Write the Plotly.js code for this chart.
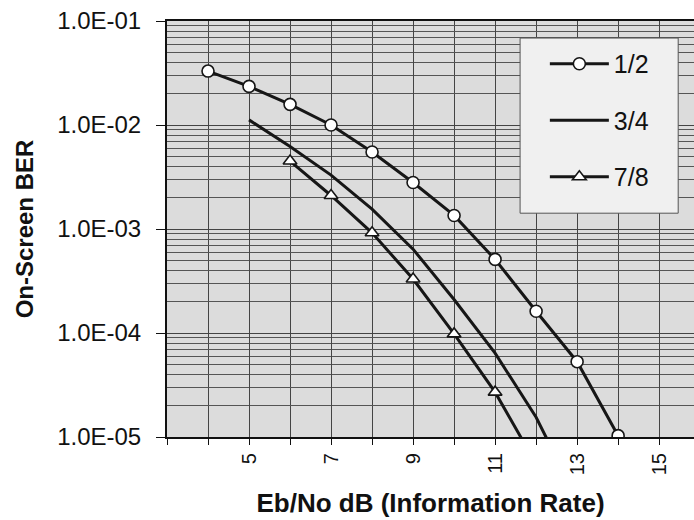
<!DOCTYPE html>
<html>
<head>
<meta charset="utf-8">
<script src="https://cdn.plot.ly/plotly-3.0.1.min.js"></script>
<style>html,body{margin:0;padding:0;background:#fff;}#chart{width:694px;height:520px;}</style>
</head>
<body>
<div id="chart"></div>
<script>
// Series names
var seriesNames = ["1/2", "3/4", "7/8"];

// Eb/No (dB) values per series
var ebno12 = [4, 5, 6, 7, 8, 9, 10, 11, 12, 13, 14];
var ebno34 = [5, 6, 7, 8, 9, 10, 11, 12, 13];
var ebno78 = [6, 7, 8, 9, 10, 11, 12];

// On-screen BER values per series
var ber12 = [3.3e-2, 2.35e-2, 1.58e-2, 1.0e-2, 5.5e-3, 2.8e-3, 1.35e-3, 5.1e-4, 1.62e-4, 5.3e-5, 1.03e-5];
var ber34 = [1.12e-2, 6.2e-3, 3.3e-3, 1.55e-3, 6.4e-4, 2.1e-4, 6.4e-5, 1.55e-5, 2.5e-6];
var ber78 = [4.5e-3, 2.1e-3, 9.2e-4, 3.3e-4, 9.8e-5, 2.7e-5, 5.5e-6];

// Tick labels
var yTickVals = [1e-5, 1e-4, 1e-3, 1e-2, 1e-1];
var yTickText = ["1.0E-05", "1.0E-04", "1.0E-03", "1.0E-02", "1.0E-01"];
var xTickVals = [5, 7, 9, 11, 13, 15];
var xTickText = ["5", "7", "9", "11", "13", "15"];

var FONT = "Arial, 'Liberation Sans', sans-serif";
var lineCol = "#161616";

var traces = [
  {
    x: ebno12, y: ber12, name: seriesNames[0], type: "scatter", mode: "lines+markers",
    legendgroup: "a",
    line: {color: lineCol, width: 3},
    marker: {symbol: "circle", size: 12, color: "#ffffff", line: {color: lineCol, width: 1.6}}
  },
  {
    x: ebno34, y: ber34, name: seriesNames[1], type: "scatter", mode: "lines",
    legendgroup: "b",
    line: {color: lineCol, width: 3}
  },
  {
    x: ebno78, y: ber78, name: seriesNames[2], type: "scatter", mode: "lines+markers",
    legendgroup: "c",
    line: {color: lineCol, width: 3},
    marker: {symbol: "triangle-up", size: 12, color: "#ffffff", line: {color: lineCol, width: 1.6}}
  }
];

var layout = {
  width: 694, height: 520,
  margin: {l: 167, r: 0, t: 21, b: 83},
  paper_bgcolor: "#ffffff",
  plot_bgcolor: "#dcdcdc",
  font: {family: FONT, color: "#111111"},
  showlegend: true,
  legend: {
    x: 0.717, y: 0.952, xanchor: "left", yanchor: "top",
    bgcolor: "rgba(0,0,0,0)", borderwidth: 0,
    font: {family: FONT, size: 25, color: "#111111"},
    tracegroupgap: 21,
    itemwidth: 59
  },
  shapes: [
    {type: "rect", xref: "paper", yref: "paper", x0: 0.67, x1: 0.97, y0: 0.538, y1: 0.959,
     fillcolor: "#f0f0f0", line: {color: "#555555", width: 1}, layer: "above"}
  ],
  xaxis: {
    range: [3, 15.85],
    tickvals: xTickVals, ticktext: xTickText,
    tickangle: -90,
    tickfont: {family: FONT, size: 20, color: "#111111"},
    ticks: "outside", ticklen: 6, tickcolor: "#111111",
    showgrid: true, gridcolor: "#444444", gridwidth: 1,
    minor: {dtick: 1, tick0: 0, showgrid: true, gridcolor: "#444444", gridwidth: 1, ticks: "outside", ticklen: 6, tickcolor: "#111111"},
    showline: true, linecolor: "#111111", linewidth: 2, mirror: true,
    zeroline: false,
    title: {text: "Eb/No dB (Information Rate)", font: {family: FONT, size: 26, color: "#111111", weight: "bold"}, standoff: 20}
  },
  yaxis: {
    type: "log",
    range: [-5, -1],
    tickvals: yTickVals, ticktext: yTickText,
    tickfont: {family: FONT, size: 24, color: "#111111"},
    ticks: "outside", ticklen: 9, tickcolor: "#111111",
    ticklabelstandoff: 10,
    showgrid: true, gridcolor: "#444444", gridwidth: 1,
    minor: {dtick: "D1", showgrid: true, gridcolor: "#555555", gridwidth: 1, ticks: ""},
    showline: true, linecolor: "#111111", linewidth: 2,
    zeroline: false,
    title: {text: "On-Screen BER", font: {family: FONT, size: 24, color: "#111111", weight: "bold"}, standoff: 17}
  }
};

Plotly.newPlot("chart", traces, layout, {displayModeBar: false, staticPlot: true});
</script>
</body>
</html>
